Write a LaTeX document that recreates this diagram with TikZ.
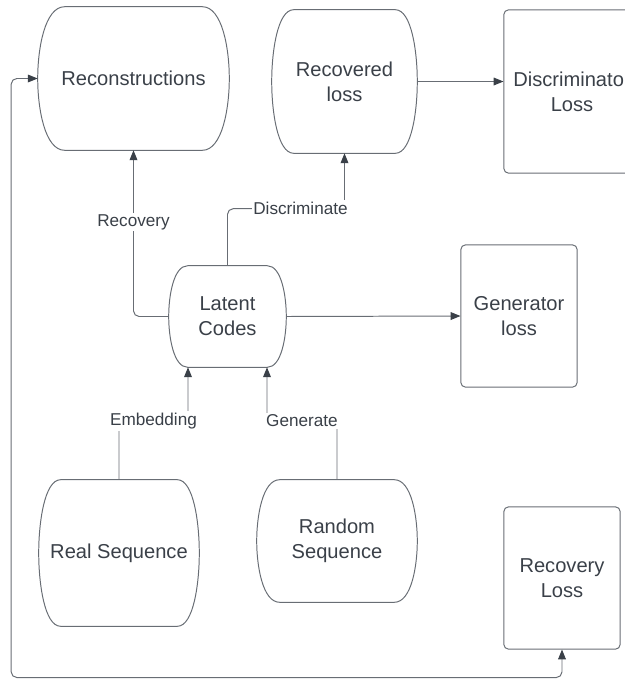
\documentclass[tikz,border=0pt]{standalone}
\usepackage{fontspec}
\setmainfont{Liberation Sans}
\usetikzlibrary{calc,arrows.meta}

\definecolor{inkgray}{RGB}{58,64,72}
\definecolor{edgegray}{RGB}{104,109,116}

\tikzset{
  arr/.tip={Triangle[length=7pt,width=5.5pt,color=inkgray]},
  nodetext/.style={align=center, text=inkgray, font=\fontsize{14.3}{17.7}\selectfont},
  box/.style={nodetext, draw=edgegray, line width=0.7pt, rounded corners=3pt, inner sep=0pt},
  blob/.style={nodetext, inner sep=0pt},
  outline/.style={draw=edgegray, line width=0.7pt},
  link/.style={draw=edgegray, line width=0.7pt, rounded corners=4pt, -arr},
  lbl/.style={fill=white, text=inkgray, font=\fontsize{12.2}{14}\selectfont, inner sep=1.2pt},
}

% barrel outline round a node: #1 node, #2 inset of the flat top
\newcommand{\barrelline}[2]{%
  \draw[outline] ($(#1.north west)+(#2,0)$) -- ($(#1.north east)+(-#2,0)$)
    .. controls ($(#1.north east)+(-0.25*#2,0)$) and ($(#1.north east)!0.3!(#1.south east)$) .. (#1.east)
    .. controls ($(#1.south east)!0.3!(#1.north east)$) and ($(#1.south east)+(-0.25*#2,0)$) .. ($(#1.south east)+(-#2,0)$)
    -- ($(#1.south west)+(#2,0)$)
    .. controls ($(#1.south west)+(0.25*#2,0)$) and ($(#1.south west)!0.3!(#1.north west)$) .. (#1.west)
    .. controls ($(#1.north west)!0.3!(#1.south west)$) and ($(#1.north west)+(0.25*#2,0)$) .. cycle;
}

\begin{document}
\begin{tikzpicture}[x=0.025cm, y=-0.025cm]
  \clip (0,0) rectangle (625,680);

  % nodes
  \node[blob, minimum width=4.775cm, minimum height=3.575cm] (recon) at (133.5,78.5) {Reconstructions};
  \node[blob, minimum width=3.625cm, minimum height=3.575cm] (recloss) at (344.5,81.5) {Recovered\\loss};
  \node[box, minimum width=3.4cm, minimum height=4.075cm] (discloss) at (572,91.5) {Discriminator\\Loss};
  \node[blob, minimum width=2.925cm, minimum height=2.525cm] (latent) at (227.5,316.5) {Latent\\Codes};
  \node[box, minimum width=2.9cm, minimum height=3.55cm] (genloss) at (519,316) {Generator\\loss};
  \node[blob, minimum width=4.0cm, minimum height=3.65cm] (real) at (119,553) {Real Sequence};
  \node[blob, minimum width=4.0cm, minimum height=3.05cm] (random) at (337,541) {Random\\Sequence};
  \node[box, minimum width=2.9cm, minimum height=3.55cm] (recovloss) at (562,578) {Recovery\\Loss};

  \barrelline{recon}{27}
  \barrelline{recloss}{22}
  \barrelline{latent}{19}
  \barrelline{real}{22}
  \barrelline{random}{23}

  % connectors
  \coordinate (embin) at ($(latent.south)+(-39.5,0)$);
  \coordinate (genin) at ($(latent.south)+(39.5,0)$);
  \draw[link] (real.north) -- ++(0,-59) -| (embin);
  \draw[link] (random.north) -- ++(0,-59) -| (genin);
  \draw[link] (latent.west) -| (recon.south);
  \draw[link] (latent.north) -- ++(0,-57) -| (recloss.south);
  \draw[link] (latent.east) -- (genloss.west);
  \draw[link] (recloss.east) -- (recloss.east -| discloss.west);
  \draw[link, arr-arr] (recovloss.south) -- ++(0,28) -| ($(recon.west)+(-26.5,0)$) -- (recon.west);

  % labels
  \node[lbl] (emblbl) at (153.5,421) {Embedding};
  \node[lbl] (genlbl) at (302,421) {Generate};
  \node[lbl] (reclbl) at (133.5,222) {Recovery};
  \node[lbl] (dislbl) at (300.5,208) {Discriminate};
\end{tikzpicture}
\end{document}
